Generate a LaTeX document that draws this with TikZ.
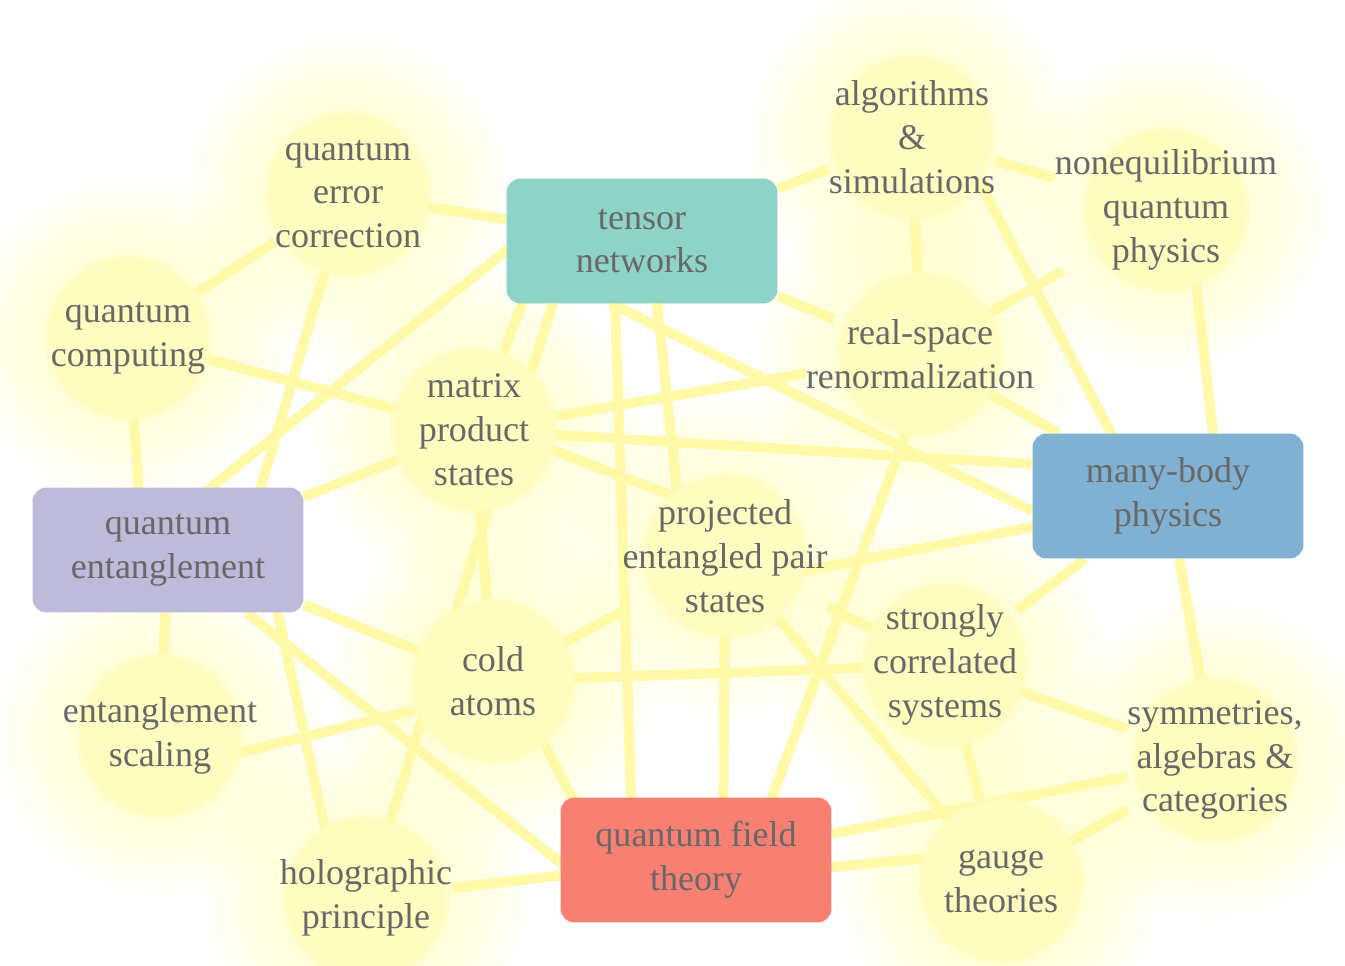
\documentclass[tikz,border=0pt]{standalone}
\usepackage{fontspec}
\setmainfont{Liberation Serif}
\usetikzlibrary{calc}
\definecolor{lineY}{RGB}{255,249,168}
\definecolor{circY}{RGB}{255,252,192}
\definecolor{haloY}{RGB}{255,255,179}
\definecolor{txtG}{RGB}{104,104,104}
\definecolor{tnC}{RGB}{141,211,199}
\definecolor{mbC}{RGB}{128,177,211}
\definecolor{qeC}{RGB}{190,186,218}
\definecolor{qfC}{RGB}{247,128,114}
\pgfdeclarelayer{halo}
\pgfdeclarelayer{edges}
\pgfdeclarelayer{disks}
\pgfsetlayers{halo,edges,disks,main}
\begin{document}
\begin{tikzpicture}[x=0.02cm,y=-0.02cm,
  cpt/.style={align=center, text=txtG, font=\fontsize{20.5}{25}\selectfont, inner sep=0pt},
  tbox/.style={cpt, rounded corners=0.28cm, minimum width=5.42cm, minimum height=2.5cm},
  link/.style={draw=lineY, line width=0.2cm},
]
\useasboundingbox (0,0) rectangle (1345,966);

% topic boxes
\node[tbox, fill=tnC] (tn)  at (642,241) {tensor\\networks};
\node[tbox, fill=mbC] (mbp) at (1168,496) {many-body\\physics};
\node[tbox, fill=qeC] (qe)  at (168,550) {quantum\\entanglement};
\node[tbox, fill=qfC] (qft) at (696,860) {quantum field\\theory};

% concept circles (text)
\node[cpt] (qec)   at (348,194) {quantum\\error\\correction};
\node[cpt] (qc)    at (128,338) {quantum\\computing};
\node[cpt] (alg)   at (912,137) {algorithms\\\&\\simulations};
\node[cpt] (nqp)   at (1166,210) {nonequilibrium\\quantum\\physics};
\node[cpt] (rsr)   at (920,354) {real-space\\renormalization};
\node[cpt] (mps)   at (474,430) {matrix\\product\\states};
\node[cpt] (peps)  at (725,556) {projected\\entangled pair\\states};
\node[cpt] (cold)  at (493,681) {cold\\atoms};
\node[cpt] (scs)   at (945,665) {strongly\\correlated\\systems};
\node[cpt] (es)    at (160,736) {entanglement\\scaling};
\node[cpt] (sac)   at (1215,760) {symmetries,\\algebras \&\\categories};
\node[cpt] (holo)  at (366,898) {holographic\\principle};
\node[cpt] (gauge) at (1001,881) {gauge\\theories};

% halos
\begin{pgfonlayer}{halo}
\fill[white] (0,0) rectangle (1345,966);
\foreach \n in {qec,qc,alg,nqp,rsr,mps,peps,cold,scs,es,sac,holo,gauge}{
  \foreach \r in {84,92,...,164}
    \fill[haloY, fill opacity=0.05] (\n) circle ({\r*0.02cm});
}
\end{pgfonlayer}

% disks
\begin{pgfonlayer}{disks}
\foreach \n in {qec,qc,alg,nqp,rsr,mps,peps,cold,scs,es,sac,holo,gauge}{
  \fill[circY, fill opacity=0.5] (\n) circle (1.68cm);
  \fill[circY] (\n) circle (1.6cm);
}
\end{pgfonlayer}

% connectors
\begin{pgfonlayer}{edges}
\draw[link] (qc) -- (qec);
\draw[link] (qc) -- (mps);
\draw[link] (qc) -- ($(qe)+(-25,0)$);
\draw[link] (qec) -- (tn);
\draw[link] (qec) -- ($(qe)+(86,-40)$);
\draw[link] ($(tn)+(-130,5)$) -- ($(qe)+(27,-50)$);
\draw[link] ($(tn)+(-119,60)$) -- (mps);
\draw[link] ($(tn)+(-89,62)$) -- (holo);
\draw[link] ($(tn)+(-27,62)$) -- ($(qft)+(-63,0)$);
\draw[link] ($(tn)+(15,62)$) -- ($(peps)+(-41,0)$);
\draw[link] (tn) -- (rsr);
\draw[link] (tn) -- (alg);
\draw[link] ($(tn)+(-32,62)$) -- ($(mbp)+(-136,15)$);
\draw[link] (alg) -- (nqp);
\draw[link] (alg) -- (rsr);
\draw[link] ($(alg)+(44,0)$) -- ($(mbp)+(-45,-40)$);
\draw[link] (nqp) -- (rsr);
\draw[link] ($(nqp)+(22,0)$) -- ($(mbp)+(52,0)$);
\draw[link] (rsr) -- (mbp);
\draw[link] (rsr) -- (mps);
\draw[link] ($(rsr)+(15,0)$) -- ($(qft)+(53,0)$);
\draw[link] (mps) -- ($(mbp)+(-136,-32)$);
\draw[link] (mps) -- (qe);
\draw[link] (mps) -- (cold);
\draw[link] ($(mps)+(0,-10)$) -- ($(peps)+(0,-40)$);
\draw[link] ($(peps)+(0,30)$) -- ($(mbp)+(-130,30)$);
\draw[link] (peps) -- ($(qft)+(27,0)$);
\draw[link] (peps) -- (gauge);
\draw[link] (peps) -- (scs);
\draw[link] (cold) -- (peps);
\draw[link] (cold) -- (scs);
\draw[link] ($(cold)+(18,0)$) -- ($(qft)+(-91,0)$);
\draw[link] (cold) -- (qe);
\draw[link] ($(cold)+(0,10)$) -- ($(es)+(0,36)$);
\draw[link] ($(holo)+(-26,0)$) -- ($(qe)+(96,0)$);
\draw[link] (holo) -- (qft);
\draw[link] (qe) -- ($(qft)+(-120,15)$);
\draw[link] (qe) -- (es);
\draw[link] ($(qft)+(0,20)$) -- ($(gauge)+(0,-30)$);
\draw[link] (qft) -- (sac);
\draw[link] (scs) -- (mbp);
\draw[link] (scs) -- (sac);
\draw[link] (scs) -- (gauge);
\draw[link] (mbp) -- (sac);
\draw[link] (gauge) -- (sac);
\end{pgfonlayer}
\end{tikzpicture}
\end{document}
